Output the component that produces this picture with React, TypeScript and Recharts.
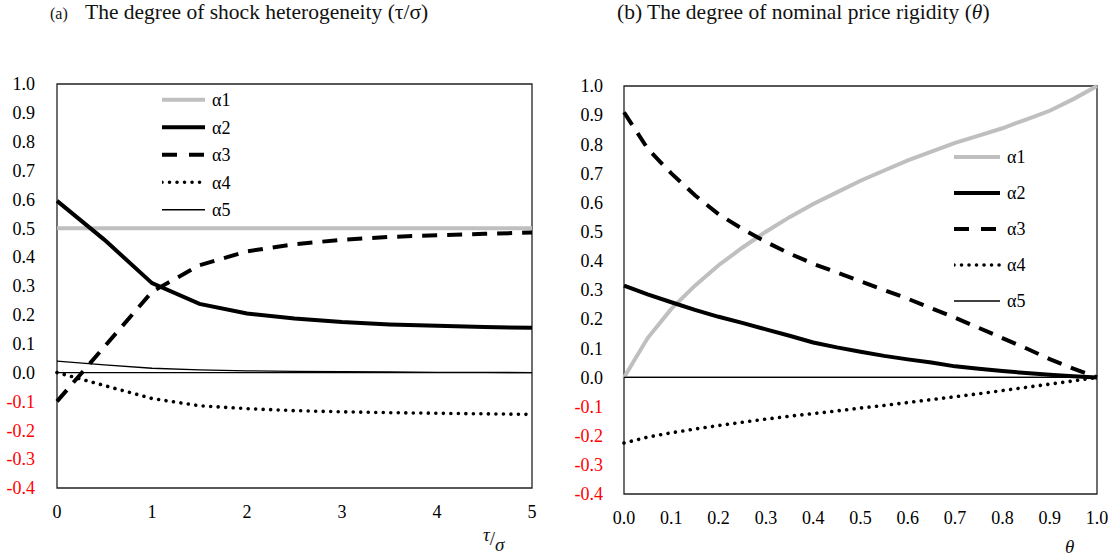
import { LineChart, Line, XAxis, YAxis, Legend, ReferenceLine, ReferenceArea } from "recharts";

const FONT = "'Liberation Serif', serif";

// panel (a): shock heterogeneity tau/sigma
const tauRatio = [0, 0.5, 1, 1.5, 2, 2.5, 3, 3.5, 4, 4.5, 5];
const tauA1 = [0.5, 0.5, 0.5, 0.5, 0.5, 0.5, 0.5, 0.5, 0.5, 0.5, 0.5];
const tauA2 = [0.595, 0.46, 0.31, 0.238, 0.205, 0.187, 0.175, 0.167, 0.162, 0.158, 0.155];
const tauA3 = [-0.1, 0.09, 0.28, 0.372, 0.42, 0.445, 0.46, 0.47, 0.476, 0.481, 0.485];
const tauA4 = [0, -0.045, -0.09, -0.115, -0.125, -0.132, -0.136, -0.139, -0.141, -0.143, -0.145];
const tauA5 = [0.04, 0.027, 0.015, 0.009, 0.006, 0.004, 0.003, 0.002, 0.001, 0.0005, 0];

// panel (b): nominal price rigidity theta
const theta = [0, 0.05, 0.1, 0.15, 0.2, 0.25, 0.3, 0.35, 0.4, 0.45, 0.5, 0.55, 0.6, 0.65, 0.7, 0.75, 0.8, 0.85, 0.9, 0.95, 1];
const thA1 = [0, 0.135, 0.235, 0.315, 0.385, 0.445, 0.5, 0.55, 0.595, 0.635, 0.675, 0.71, 0.745, 0.775, 0.805, 0.83, 0.855, 0.885, 0.915, 0.955, 1];
const thA2 = [0.315, 0.285, 0.258, 0.232, 0.208, 0.187, 0.165, 0.143, 0.12, 0.103, 0.088, 0.074, 0.062, 0.051, 0.038, 0.03, 0.022, 0.015, 0.009, 0.004, 0];
const thA3 = [0.91, 0.785, 0.7, 0.625, 0.56, 0.51, 0.465, 0.425, 0.39, 0.36, 0.33, 0.3, 0.27, 0.237, 0.205, 0.17, 0.135, 0.1, 0.063, 0.03, 0];
const thA4 = [-0.225, -0.205, -0.19, -0.177, -0.165, -0.154, -0.143, -0.133, -0.124, -0.115, -0.105, -0.096, -0.086, -0.076, -0.066, -0.056, -0.045, -0.034, -0.023, -0.012, 0];
const thA5 = [0, 0, 0, 0, 0, 0, 0, 0, 0, 0, 0, 0, 0, 0, 0, 0, 0, 0, 0, 0, 0];

const yTicks = [-0.4, -0.3, -0.2, -0.1, 0, 0.1, 0.2, 0.3, 0.4, 0.5, 0.6, 0.7, 0.8, 0.9, 1.0];
const tauTicks = [0, 1, 2, 3, 4, 5];
const thetaTicks = [0, 0.1, 0.2, 0.3, 0.4, 0.5, 0.6, 0.7, 0.8, 0.9, 1.0];

const seriesNames = ["α1", "α2", "α3", "α4", "α5"];

const styles: Record<string, any> = {
  a1: { stroke: "#bfbfbf", strokeWidth: 4 },
  a2: { stroke: "#000", strokeWidth: 4 },
  a3: { stroke: "#000", strokeWidth: 4, strokeDasharray: "15 10" },
  a4: { stroke: "#000", strokeWidth: 3.6, strokeDasharray: "0.01 7.5", strokeLinecap: "round" },
  a5: { stroke: "#000", strokeWidth: 1.3 },
};
const keys = ["a1", "a2", "a3", "a4", "a5"];

const tauData = tauRatio.map((x, i) => ({ x, a1: tauA1[i], a2: tauA2[i], a3: tauA3[i], a4: tauA4[i], a5: tauA5[i] }));
const thetaData = theta.map((x, i) => ({ x, a1: thA1[i], a2: thA2[i], a3: thA3[i], a4: thA4[i], a5: thA5[i] }));

const YTick = (props: any) => {
  const { x, y, payload } = props;
  return (
    <text x={x} y={y} dy="0.35em" textAnchor="end" fontFamily={FONT} fontSize={18}
      fill={payload.value < 0 ? "#ff0000" : "#000"}>
      {payload.value.toFixed(1)}
    </text>
  );
};

const makeXTick = (digits: number) => (props: any) => {
  const { x, y, payload } = props;
  return (
    <text x={x} y={y} dy="0.71em" textAnchor="middle" fontFamily={FONT} fontSize={18} fill="#000">
      {payload.value.toFixed(digits)}
    </text>
  );
};

const makeLegend = (gap: number, len: number) => () => (
  <svg width={len + 40} height={gap * 5} style={{ display: "block" }}>
    {keys.map((k, i) => {
      const cy = gap / 2 + i * gap;
      const s = styles[k];
      return (
        <g key={k}>
          <line x1={0} x2={len} y1={cy} y2={cy} stroke={s.stroke} strokeWidth={s.strokeWidth}
            strokeDasharray={k === "a3" ? "15 12" : s.strokeDasharray} strokeLinecap={s.strokeLinecap} />
          <text x={len + 7} y={cy} dy="0.35em" fontFamily={FONT} fontSize={18} fill="#000">
            {seriesNames[i]}
          </text>
        </g>
      );
    })}
  </svg>
);

const Panel = (p: {
  data: any[]; width: number; margin: any; yWidth: number; yMargin: number;
  xMax: number; xTicks: number[]; digits: number; legend: any; legendPos: any;
}) => (
  <LineChart width={p.width} height={558} data={p.data} margin={p.margin}>
    <XAxis dataKey="x" type="number" domain={[0, p.xMax]} ticks={p.xTicks} axisLine={false}
      tickLine={false} tickSize={0} tickMargin={17} height={30} tick={makeXTick(p.digits)} interval={0} />
    <YAxis type="number" domain={[-0.4, 1]} ticks={yTicks} axisLine={false} tickLine={false}
      tickSize={0} tickMargin={p.yMargin} width={p.yWidth} tick={<YTick />} interval={0} />
    <ReferenceArea x1={0} x2={p.xMax} y1={-0.4} y2={1} fill="none" stroke="#222" strokeWidth={1.3} />
    <ReferenceLine y={0} stroke="#000" strokeWidth={1.3} />
    <Legend content={p.legend} layout="vertical" align="center" verticalAlign="middle"
      wrapperStyle={{ position: "absolute", ...p.legendPos, width: "auto", height: "auto" }} />
    {keys.map((k, i) => (
      <Line key={k} dataKey={k} name={seriesNames[i]} type="linear" dot={false} activeDot={false}
        isAnimationActive={false} {...styles[k]} />
    ))}
  </LineChart>
);

export default function App() {
  return (
    <div style={{ position: "absolute", left: 0, top: 0, width: 1110, height: 558, background: "#fff" }}>
      <div style={{ position: "absolute", left: 0, top: 0 }}>
        <Panel data={tauData} width={560} margin={{ top: 84, right: 28, bottom: 40, left: 0 }}
          yWidth={57} yMargin={22} xMax={5} xTicks={tauTicks} digits={0}
          legend={makeLegend(27.5, 43)} legendPos={{ left: 162, top: 86 }} />
      </div>
      <div style={{ position: "absolute", left: 560, top: 0 }}>
        <Panel data={thetaData} width={550} margin={{ top: 86, right: 13, bottom: 34, left: 0 }}
          yWidth={64} yMargin={21} xMax={1} xTicks={thetaTicks} digits={1}
          legend={makeLegend(36, 46)} legendPos={{ left: 394, top: 139 }} />
      </div>
      <svg width={1110} height={558} style={{ position: "absolute", left: 0, top: 0, pointerEvents: "none" }}>
        <text x={50} y={19} fontFamily={FONT} fontSize={16} fill="#111">(a)</text>
        <text x={85} y={19} fontFamily={FONT} fontSize={21.5} fill="#111">
          The degree of shock heterogeneity (τ/σ)
        </text>
        <text x={617} y={19} fontFamily={FONT} fontSize={21.5} fill="#111">
          (b) The degree of nominal price rigidity (<tspan fontStyle="italic">θ</tspan>)
        </text>
        <text x={483} y={541} fontFamily={FONT} fontSize={19} fontStyle="italic" fill="#111">
          τ<tspan dy={4} fontStyle="normal">/</tspan><tspan dy={6}>σ</tspan>
        </text>
        <text x={1065} y={553} fontFamily={FONT} fontSize={19} fontStyle="italic" fill="#111">θ</text>
      </svg>
    </div>
  );
}
